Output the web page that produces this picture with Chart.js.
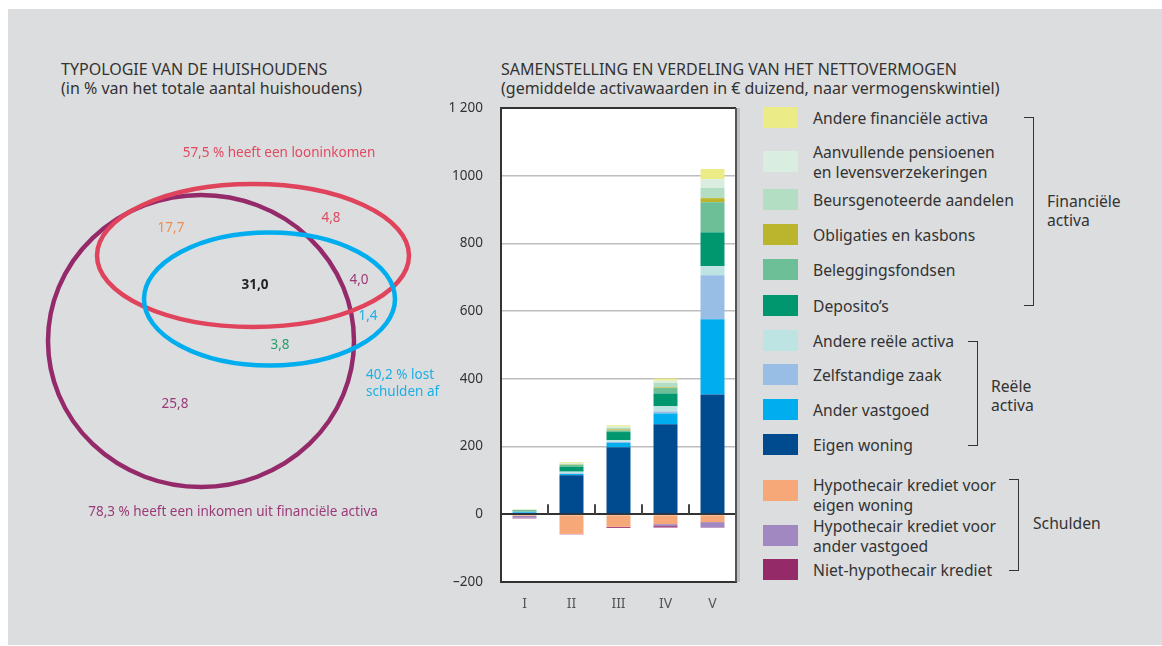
<!DOCTYPE html>
<html>
<head>
<meta charset="utf-8">
<script src="https://cdn.jsdelivr.net/npm/chart.js@4.4.1/dist/chart.umd.min.js"></script>
<style>
  body { margin: 0; background: #fff; font-family: 'Noto Sans', sans-serif; color: #333; }
  #panel { position: absolute; left: 8px; top: 9px; width: 1154px; height: 636px; background: #dcdddf; }
  .title { position: absolute; font-size: 16px; line-height: 19px; color: #333; white-space: nowrap; }
  canvas { position: absolute; }
  .swatch { position: absolute; left: 763px; width: 35px; height: 21px; }
  .ltext { position: absolute; left: 813px; font-size: 15.7px; line-height: 20px; color: #333; white-space: nowrap; }
  .bracket { position: absolute; border: 1.5px solid #333; border-left: none; width: 9px; }
  .blabel { position: absolute; font-size: 15.7px; line-height: 19px; color: #333; white-space: nowrap; }
</style>
</head>
<body>
<div id="panel"></div>
<div class="title" style="left:61px;top:60px">TYPOLOGIE VAN DE HUISHOUDENS<br>(in % van het totale aantal huishoudens)</div>
<div class="title" style="left:501px;top:60px">SAMENSTELLING EN VERDELING VAN HET NETTOVERMOGEN<br>(gemiddelde activawaarden in € duizend, naar vermogenskwintiel)</div>
<canvas id="venn" width="470" height="400" style="left:0;top:130px"></canvas>
<canvas id="bars" width="310" height="543" style="left:440px;top:82px"></canvas>
<div id="legend"></div>
<div class="bracket" style="left:1024px;top:117px;height:187px"></div>
<div class="blabel" style="left:1047px;top:192px">Financiële<br>activa</div>
<div class="bracket" style="left:968px;top:341px;height:103px"></div>
<div class="blabel" style="left:991px;top:377px">Reële<br>activa</div>
<div class="bracket" style="left:1009px;top:479px;height:90px"></div>
<div class="blabel" style="left:1033px;top:514px">Schulden</div>
<script>
// --- data: net wealth by quintile (€ thousand) ---
const categories = ['I', 'II', 'III', 'IV', 'V'];
const eigenWoning = [4, 115, 198, 266, 354];
const anderVastgoed = [2, 4, 13, 32, 222];
const zelfstandigeZaak = [1, 2, 3, 6, 130];
const andereReele = [1, 5, 5, 15, 27];
const depositos = [3, 14, 24, 38, 100];
const beleggingsfondsen = [1, 6, 5, 16, 89];
const obligaties = [0.5, 1, 3, 2, 12];
const beursgenoteerd = [1, 2, 5, 13, 30];
const aanvullendePensioen = [0.5, 2, 3, 7, 26];
const andereFinancieel = [1, 3, 4, 6, 30];
const hypoEigenWoning = [-5, -58, -37, -29, -23];
const hypoAnderVastgoed = [-5, 0, 0, -6, -16];
const nietHypothecair = [-2, -1, -3, -4, -1];

const yTicks = [-200, 0, 200, 400, 600, 800, 1000, 1200];

// --- data: household typology (% of households) ---
const vennSetLabels = ['57,5 % heeft een looninkomen', '40,2 % lost', 'schulden af', '78,3 % heeft een inkomen uit financiële activa'];
const vennRegionValues = ['17,7', '4,8', '31,0', '4,0', '1,4', '3,8', '25,8'];

const fontFamily = "'Noto Sans', sans-serif";

const palette = {
  andereFinancieel: '#ebeb88',
  aanvullendePensioen: '#d9ede0',
  beursgenoteerd: '#b4dec4',
  obligaties: '#bbb52e',
  beleggingsfondsen: '#6cbf96',
  depositos: '#00976f',
  andereReele: '#bee3e3',
  zelfstandigeZaak: '#98bee5',
  anderVastgoed: '#00aeef',
  eigenWoning: '#004a8f',
  hypoEigenWoning: '#f7a878',
  hypoAnderVastgoed: '#a288c0',
  nietHypothecair: '#952a69',
  venn: { loon: '#e0435c', schuld: '#00aeef', fin: '#952a6b' },
};

// stacking order: first one sits next to zero
const series = [
  { key: 'eigenWoning', label: 'Eigen woning', data: eigenWoning },
  { key: 'anderVastgoed', label: 'Ander vastgoed', data: anderVastgoed },
  { key: 'zelfstandigeZaak', label: 'Zelfstandige zaak', data: zelfstandigeZaak },
  { key: 'andereReele', label: 'Andere reële activa', data: andereReele },
  { key: 'depositos', label: 'Deposito’s', data: depositos },
  { key: 'beleggingsfondsen', label: 'Beleggingsfondsen', data: beleggingsfondsen },
  { key: 'obligaties', label: 'Obligaties en kasbons', data: obligaties },
  { key: 'beursgenoteerd', label: 'Beursgenoteerde aandelen', data: beursgenoteerd },
  { key: 'aanvullendePensioen', label: 'Aanvullende pensioenen<br>en levensverzekeringen', data: aanvullendePensioen },
  { key: 'andereFinancieel', label: 'Andere financiële activa', data: andereFinancieel },
  { key: 'hypoEigenWoning', label: 'Hypothecair krediet voor<br>eigen woning', data: hypoEigenWoning },
  { key: 'hypoAnderVastgoed', label: 'Hypothecair krediet voor<br>ander vastgoed', data: hypoAnderVastgoed },
  { key: 'nietHypothecair', label: 'Niet-hypothecair krediet', data: nietHypothecair },
];

// legend rows, top to bottom, with their top edge
const legendOrder = [
  ['andereFinancieel', 107], ['aanvullendePensioen', 151], ['beursgenoteerd', 189], ['obligaties', 224],
  ['beleggingsfondsen', 259], ['depositos', 295], ['andereReele', 330], ['zelfstandigeZaak', 364],
  ['anderVastgoed', 399], ['eigenWoning', 434], ['hypoEigenWoning', 480], ['hypoAnderVastgoed', 525],
  ['nietHypothecair', 559],
];

const legendEl = document.getElementById('legend');
legendOrder.forEach(([key, top]) => {
  const s = series.find((d) => d.key === key);
  const sw = document.createElement('div');
  sw.className = 'swatch';
  sw.style.top = top + 'px';
  sw.style.background = palette[key];
  legendEl.appendChild(sw);
  const tx = document.createElement('div');
  tx.className = 'ltext';
  const lines = s.label.split('<br>').length;
  tx.style.top = (top + 10.5 - lines * 10 + (key === 'hypoEigenWoning' ? 4 : 0)) + 'px';
  tx.innerHTML = s.label;
  legendEl.appendChild(tx);
});

// white plot background, frame and the little ticks on the zero line
const framePlugin = {
  id: 'frame',
  beforeDraw(chart) {
    const { ctx, chartArea: a } = chart;
    ctx.save();
    ctx.fillStyle = '#fff';
    ctx.fillRect(a.left, a.top, a.right - a.left, a.bottom - a.top);
    ctx.restore();
  },
  afterDraw(chart) {
    const { ctx, chartArea: a, scales } = chart;
    ctx.save();
    ctx.strokeStyle = '#555';
    ctx.lineWidth = 2;
    ctx.beginPath();
    ctx.moveTo(a.right, a.top);
    ctx.lineTo(a.right, a.bottom);
    ctx.stroke();
    ctx.strokeStyle = '#bfc0c2';
    ctx.lineWidth = 3;
    ctx.beginPath();
    ctx.moveTo(a.right + 2.5, a.top);
    ctx.lineTo(a.right + 2.5, a.bottom);
    ctx.stroke();
    const zero = scales.y.getPixelForValue(0);
    ctx.strokeStyle = '#444';
    ctx.lineWidth = 2;
    for (let i = 0; i < categories.length - 1; i++) {
      const xb = (scales.x.getPixelForTick(i) + scales.x.getPixelForTick(i + 1)) / 2;
      ctx.beginPath();
      ctx.moveTo(xb, zero - 10);
      ctx.lineTo(xb, zero);
      ctx.stroke();
    }
    ctx.restore();
  },
};

new Chart(document.getElementById('bars'), {
  type: 'bar',
  data: {
    labels: categories,
    datasets: series.map((s) => ({
      label: s.label,
      data: s.data,
      backgroundColor: palette[s.key],
      borderWidth: 0,
      stack: 'wealth',
      barPercentage: 0.51,
      categoryPercentage: 1,
    })),
  },
  options: {
    responsive: false,
    animation: false,
    layout: { padding: { top: 13, right: 14, left: 0, bottom: 0 } },
    plugins: { legend: { display: false }, tooltip: { enabled: false } },
    scales: {
      x: {
        stacked: true,
        grid: { display: false, drawTicks: false },
        border: { display: true, color: '#333', width: 2 },
        ticks: { color: '#555', font: { family: fontFamily, size: 14 }, padding: 14 },
        afterFit(scale) { scale.height = 43; },
      },
      y: {
        stacked: true,
        min: -200,
        max: 1200,
        afterBuildTicks(scale) { scale.ticks = yTicks.map((v) => ({ value: v })); },
        grid: {
          drawTicks: false,
          color: (c) => ([0, 1200].includes(c.tick.value) ? '#333' : '#bdbdbd'),
          lineWidth: (c) => ([0, 1200].includes(c.tick.value) ? 2 : 1.5),
        },
        border: { display: true, color: '#333', width: 2 },
        ticks: {
          color: '#333',
          padding: 18,
          font: { family: fontFamily, size: 13.5 },
          callback: (v) => (v === 1200 ? '1 200' : v < 0 ? '–' + Math.abs(v) : String(v)),
        },
        afterFit(scale) { scale.width = 61; },
      },
    },
  },
  plugins: [framePlugin],
});

// --- Venn diagram, drawn through a scatter chart's scales ---
// layout of the shapes in the chart's own units (x: 0..470, y: 0..400 downwards)
const vennShapes = [
  { cx: 201, cy: 211, rx: 153, ry: 146, color: palette.venn.fin },
  { cx: 253, cy: 125.5, rx: 156, ry: 71.5, color: palette.venn.loon },
  { cx: 269.5, cy: 169, rx: 125.5, ry: 66.5, color: palette.venn.schuld },
];
const vennTexts = [
  { text: vennSetLabels[0], x: 279, y: 23, color: '#e24a62', align: 'center' },
  { text: vennRegionValues[0], x: 171, y: 98, color: '#ef8c4c', align: 'center' },
  { text: vennRegionValues[1], x: 331, y: 88, color: '#e24a62', align: 'center' },
  { text: vennRegionValues[2], x: 255, y: 155, color: '#222', align: 'center', bold: true },
  { text: vennRegionValues[3], x: 359, y: 150, color: '#9b3a78', align: 'center' },
  { text: vennRegionValues[4], x: 368, y: 186, color: '#1aafe6', align: 'center' },
  { text: vennRegionValues[5], x: 280, y: 215, color: '#2a9d6a', align: 'center' },
  { text: vennSetLabels[1], x: 366, y: 245, color: '#1aafe6', align: 'left' },
  { text: vennSetLabels[2], x: 366, y: 262, color: '#1aafe6', align: 'left' },
  { text: vennRegionValues[6], x: 175, y: 274, color: '#9b3a78', align: 'center' },
  { text: vennSetLabels[3], x: 233, y: 382, color: '#9b3a78', align: 'center' },
];

const vennPlugin = {
  id: 'venn',
  afterDraw(chart) {
    const { ctx, scales: { x, y } } = chart;
    ctx.save();
    vennShapes.forEach((s) => {
      const cx = x.getPixelForValue(s.cx);
      const cy = y.getPixelForValue(s.cy);
      const rx = Math.abs(x.getPixelForValue(s.cx + s.rx) - cx);
      const ry = Math.abs(y.getPixelForValue(s.cy + s.ry) - cy);
      ctx.beginPath();
      ctx.ellipse(cx, cy, rx, ry, 0, 0, Math.PI * 2);
      ctx.strokeStyle = s.color;
      ctx.lineWidth = 4.5;
      ctx.stroke();
    });
    ctx.textBaseline = 'middle';
    vennTexts.forEach((t) => {
      ctx.font = (t.bold ? 'bold ' : '') + "13.5px 'Noto Sans', sans-serif";
      ctx.fillStyle = t.color;
      ctx.textAlign = t.align;
      ctx.fillText(t.text, x.getPixelForValue(t.x), y.getPixelForValue(t.y));
    });
    ctx.restore();
  },
};

new Chart(document.getElementById('venn'), {
  type: 'scatter',
  data: { datasets: [] },
  options: {
    responsive: false,
    animation: false,
    layout: { padding: 0 },
    plugins: { legend: { display: false }, tooltip: { enabled: false } },
    scales: {
      x: { display: false, min: 0, max: 470 },
      y: { display: false, min: 0, max: 400, reverse: true },
    },
  },
  plugins: [vennPlugin],
});
</script>
</body>
</html>
